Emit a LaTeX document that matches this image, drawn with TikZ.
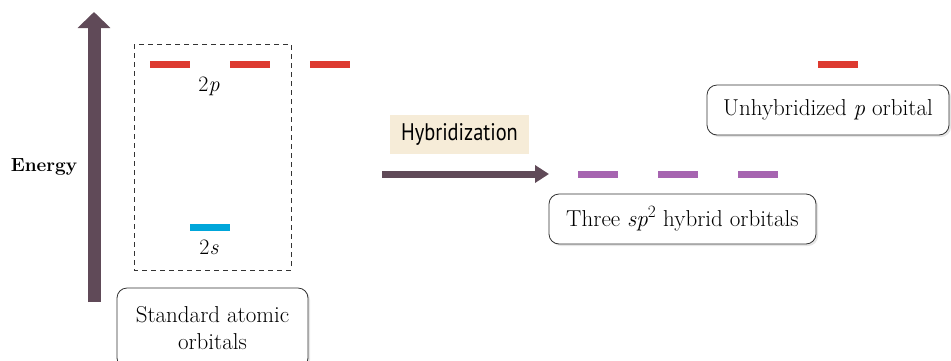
\documentclass[tikz,border=0pt]{standalone}
\usepackage{fontspec}
\newfontfamily\labelfont[FakeStretch=0.85]{PT Sans}
\usetikzlibrary{arrows.meta,shadows}

\definecolor{energyclr}{RGB}{96,74,88}
\definecolor{pclr}{RGB}{221,58,48}
\definecolor{sclr}{RGB}{0,166,218}
\definecolor{hybclr}{RGB}{166,100,176}
\definecolor{tagclr}{RGB}{246,236,216}

\tikzset{
	orb/.style={rectangle, inner sep=0pt, minimum width=40pt, minimum height=7pt},
	caption/.style={draw=black!80, line width=0.8pt, rounded corners=10pt, fill=white,
		drop shadow={opacity=0.2, shadow xshift=2pt, shadow yshift=-2pt},
		font=\fontsize{23}{27}\selectfont, align=center, inner sep=0pt}
}

\begin{document}
\begin{tikzpicture}[x=1pt,y=-1pt]
		\useasboundingbox (0,0) rectangle (951,360);
		
		% Orbital levels in pixels from the top
		\def\pLevel{64}
		\def\sLevel{227}
		\def\hybLevel{174}
		
		% Energy axis going up
		\coordinate (Ebot) at (94,302);
		\coordinate (Etop) at (94,12);
		\draw[energyclr, line width=13pt, -{Triangle[length=16pt,width=32pt]}] (Ebot) -- (Etop);
		\node[font=\fontsize{19}{23}\selectfont\bfseries] (energy) at (44,167) {Energy};
		
		% Dashed box round the standard orbitals
		\draw[dashed, black!80, line width=0.8pt, dash pattern=on 5pt off 4pt] (134,44) rectangle (291,270);
		
		% Three 2p orbitals
		\node[orb, fill=pclr] (p1) at (170,\pLevel) {};
		\node[orb, fill=pclr] (p2) at (250,\pLevel) {};
		\node[orb, fill=pclr] (p3) at (330,\pLevel) {};
		\node[font=\fontsize{22}{26}\selectfont] (lab2p) at (209,86) {2\textit{p}};
		
		% The 2s orbital
		\node[orb, fill=sclr] (s1) at (210,\sLevel) {};
		\node[font=\fontsize{22}{26}\selectfont] (lab2s) at (209,247) {2\textit{s}};
		
		% Caption of the standard orbitals
		\node[caption, minimum width=191pt, minimum height=80pt] (std) at (212.5,328) {Standard atomic\\orbitals};
		
		% Hybridization arrow with its tag
		\node[fill=tagclr, minimum width=139pt, minimum height=39pt, inner sep=0pt,
			font=\fontsize{24}{28}\selectfont\labelfont] (hyb) at (459.5,134.5) {Hybridization};
		\coordinate (Hstart) at (382,\hybLevel);
		\coordinate (Hend) at (549,\hybLevel);
		\draw[energyclr, line width=7pt, -{Triangle[length=14pt,width=17pt]}] (Hstart) -- (Hend);
		
		% Three sp2 hybrid orbitals
		\node[orb, fill=hybclr] (h1) at (598,\hybLevel) {};
		\node[orb, fill=hybclr] (h2) at (678,\hybLevel) {};
		\node[orb, fill=hybclr] (h3) at (758,\hybLevel) {};
		\node[caption, minimum width=267pt, minimum height=50pt] (hybcap) at (682.5,219) {Three \textit{sp}$^2$ hybrid orbitals};
		
		% The unhybridized p orbital
		\node[orb, fill=pclr] (pu) at (838,\pLevel) {};
		\node[caption, minimum width=242pt, minimum height=50pt] (pucap) at (828,110) {Unhybridized \textit{p} orbital};
	\end{tikzpicture}
\end{document}
